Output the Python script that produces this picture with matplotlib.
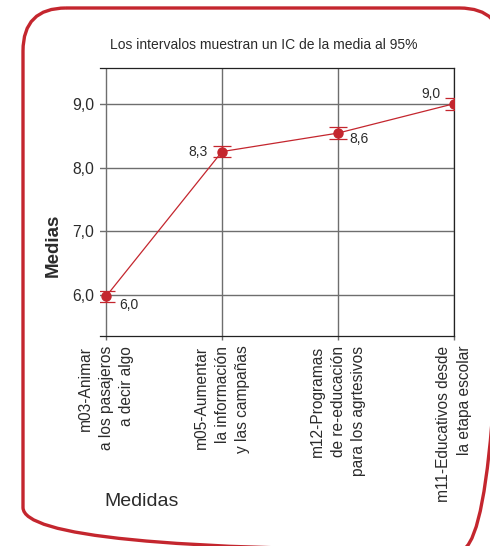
import matplotlib.pyplot as plt
from matplotlib.patches import FancyBboxPatch

plt.rcParams['font.family'] = ['Liberation Sans', 'DejaVu Sans']

# data
medidas = [
    "m03-Animar\na los pasajeros\na decir algo",
    "m05-Aumentar\nla información\ny las campañas",
    "m12-Programas\nde re-educación\npara los agrtesivos",
    "m11-Educativos desde\nla etapa escolar",
]
medias = [5.98, 8.25, 8.54, 9.0]
ic_half = [0.09, 0.09, 0.09, 0.095]
value_labels = ["6,0", "8,3", "8,6", "9,0"]
yticks = [6.0, 7.0, 8.0, 9.0]
ytick_labels = ["6,0", "7,0", "8,0", "9,0"]

RED = '#c4262e'
TXT = '#2b2b2b'
W, H = 490, 546
px = 72 / 100  # pixels -> points

fig = plt.figure(figsize=(W / 100, H / 100), dpi=100)

# rounded red frame, drawn in pixel coordinates
bg = fig.add_axes([0, 0, 1, 1])
bg.set_xlim(0, W)
bg.set_ylim(H, 0)
bg.axis('off')
bg.add_patch(FancyBboxPatch((23, 8), 479.5, 542.5,
                            boxstyle="round,pad=0,rounding_size=43",
                            facecolor='none', edgecolor=RED, linewidth=2.4,
                            clip_on=False))

ax = fig.add_axes([100 / W, 1 - 336 / H, 354 / W, 268 / H])
x = list(range(len(medidas)))

ax.errorbar(x, medias, yerr=ic_half, color=RED, linewidth=0.9,
            marker='o', markersize=6.5, capsize=6.5, capthick=0.9,
            elinewidth=0.9, zorder=5)

# value labels (offsets in pixels)
offsets = [(13, -9, 'left'), (-14, 0, 'right'), (11, -6, 'left'), (-13, 10, 'right')]
for xi, yi, lab, (dx, dy, ha) in zip(x, medias, value_labels, offsets):
    ax.annotate(lab, (xi, yi), xytext=(dx * px, dy * px), textcoords='offset points',
                ha=ha, va='center', fontsize=10, color=TXT, zorder=6)

ax.set_xlim(-0.052, 3)
ax.set_ylim(5.36, 9.56)
ax.set_yticks(yticks)
ax.set_yticklabels(ytick_labels, fontsize=11.3, color=TXT)
ax.set_xticks(x)
ax.set_xticklabels(medidas, rotation=90, fontsize=11.2, color=TXT,
                   ha='center', va='top', multialignment='right', linespacing=1.45)

ax.grid(True, color='#6e6e6e', linewidth=1.0)
ax.set_axisbelow(True)
ax.tick_params(axis='y', length=0, pad=4)
ax.tick_params(axis='x', length=3, width=1.0, color='#6e6e6e', pad=4)
ax.spines['left'].set_visible(False)
for s in ['top', 'bottom', 'right']:
    ax.spines[s].set_color('#222222')
    ax.spines[s].set_linewidth(0.9)

fig.text(263.5 / W, 1 - 45 / H, "Los intervalos muestran un IC de la media al 95%",
         ha='center', va='center', fontsize=10, color=TXT)
fig.text(53 / W, 1 - 245 / H, "Medias", rotation=90, ha='center', va='center',
         fontsize=13.5, fontweight='bold', color=TXT)
fig.text(142 / W, 1 - 502 / H, "Medidas", ha='center', va='center',
         fontsize=14, color=TXT)

fig.savefig('out.png', dpi=100)
